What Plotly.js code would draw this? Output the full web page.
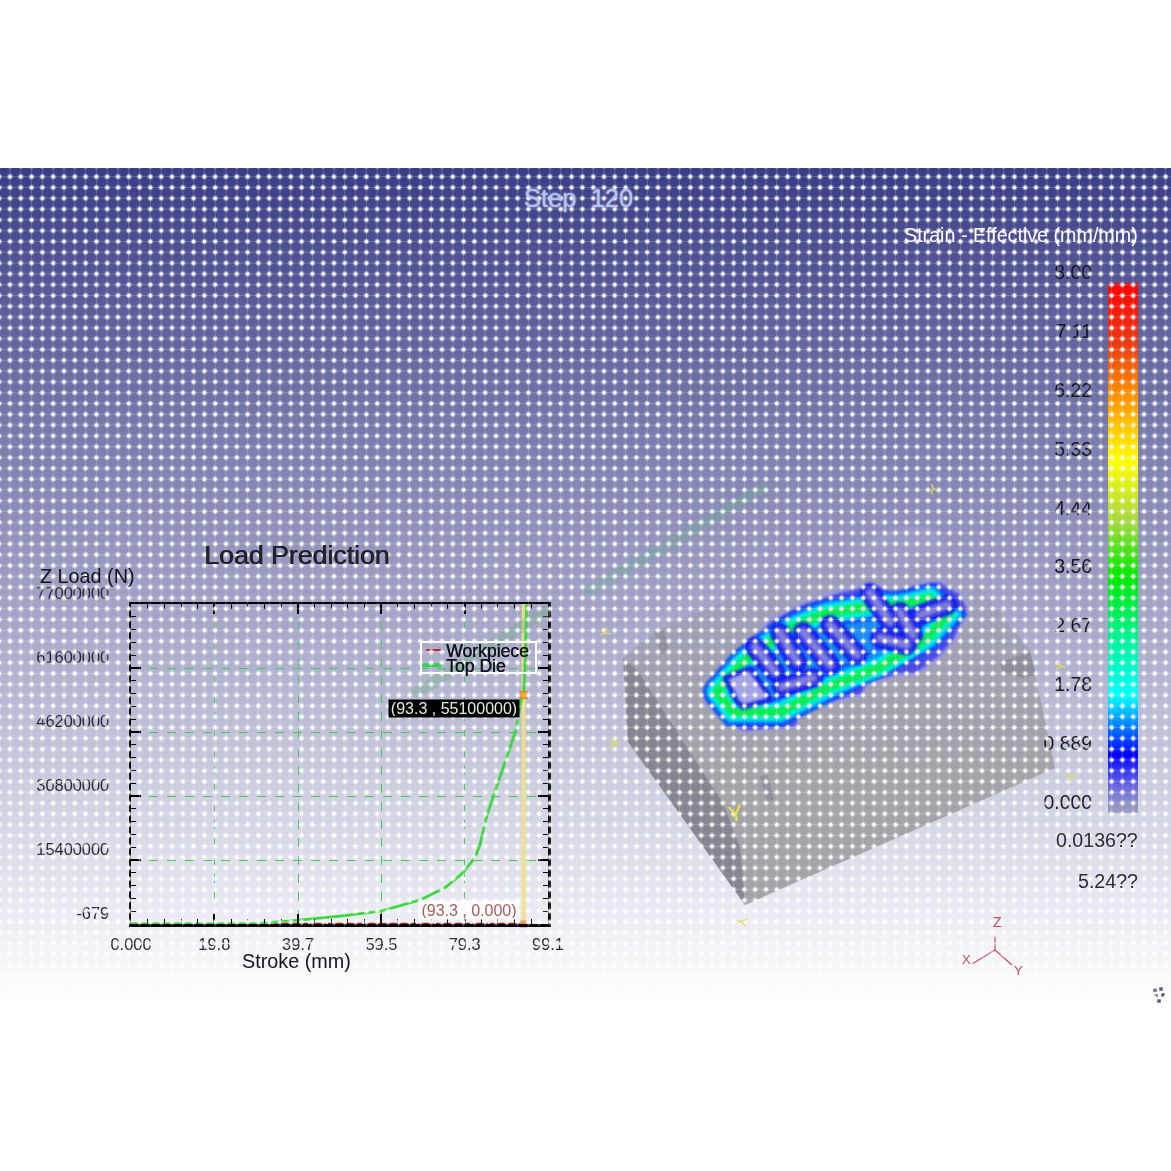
<!DOCTYPE html>
<html><head><meta charset="utf-8">
<script src="https://cdn.plot.ly/plotly-3.0.1.min.js"></script>
<style>
html,body{margin:0;padding:0;background:#fff}
#chart{width:1171px;height:1171px;filter:blur(0.35px)}
.scatterlayer path.js-line{stroke-linecap:round}
.subplot.x2y2 .scatterlayer .trace:nth-child(n+6):nth-child(-n+16){filter:blur(1.6px)}
</style></head><body><div id="chart"></div>
<script>
// ---- load curve data ----
const strokeTopDie=[0,28.3,37.8,49.7,59.4,68.7,74.6,78.9,81.8,82.9,84.6,87.0,89.4,91.5,92.7,93.3,93.6,94.0];
const loadTopDie=[0,0,720000,1900000,3100000,5800000,8700000,12300000,16100000,19000000,26200000,33400000,40700000,46700000,53900000,55100000,62000000,77000000];
const strokeWorkpiece=[0,93.3];
const loadWorkpiece=[0,0];
const currentStroke=93.3, currentLoad=55100000;
const xTickVals=[0,19.8,39.7,59.5,79.3,99.1];
const xTickText=['0.000','19.8','39.7','59.5','79.3','99.1'];
const yTickVals=[0,15400000,30800000,46200000,61600000,77000000];
const yTickText=['-679','15400000','30800000','46200000','61600000','77000000'];
// ---- strain scale ----
const strainVals=[0,0.3,0.6,0.889,1.33,1.78,2.67,3.56,4.44,5.33,6.22,7.11,8];
const strainTicks=[0,0.889,1.78,2.67,3.56,4.44,5.33,6.22,7.11,8];
const strainText=['0.000','0.889','1.78','2.67','3.56','4.44','5.33','6.22','7.11','8.00'];
const strainScale=[[0,'#a0a0bc'],[0.05,'#6a6ae0'],[0.111,'#0000ff'],[0.166,'#0080ff'],[0.2225,'#00ffff'],[0.334,'#00f090'],[0.445,'#00e800'],[0.555,'#a8d840'],[0.666,'#ffff00'],[0.7775,'#ff9a00'],[0.889,'#e63a14'],[1,'#ff0000']];
// ---- part outlines ----
const blockX=[623,657,900,930,1030,1055,745],blockY=[658,630,527,527,650,768,905];
const faceX=[623,628,745,740,723,637],faceY=[658,742,905,847,803,670];
const notchX=[1000,1030,1036,1022,1002],notchY=[662,652,675,678,672];
const notch2X=[760,768,774,766],notch2Y=[776,775,800,801];
const notch3X=[655,664,669,660],notch3Y=[632,630,652,654];
const blobX=[708,725,750,770,803,840,870,882,893,913,940,960,968,955,940,917,900,867,863,840,800,797,743,720,706,708];
const blobY=[688,672,644,620,603,591,585,586,593,585,581,593,608,640,657,674,675,684,695,700,709,727,732,717,702,688];
const ringX=[717,733,780,833,880,927,948,930,900,880,827,797,763,743,717];
const ringY=[692,712,712,685,667,638,615,598,605,605,613,625,647,662,692];
const webX=[755,775,null,780,797,null,782,813,null,803,830,null,830,857,null,870,890,null,880,907,null,900,913,null,920,947];
const webY=[647,672,null,633,662,null,687,678,null,632,665,null,625,655,null,593,622,null,638,645,null,612,635,null,615,605];
const endX=[725,750,767,770,743,737,725],endY=[678,668,692,700,707,702,678];
const wm1X=[590,765],wm1Y=[590,487];
const wm2X=[418,545],wm2Y=[692,612];
const triadX=[972,995,995,null,995,1012],triadY=[964,950,937,null,950,965];
const iconX=[1155,1161,1156,1163,1159],iconY=[990,989,996,995,1001];
const legendRedX=[427,441],legendRedY=[650,650];
const legendGreenX=[424,441],legendGreenY=[665,665];

const F='"Liberation Sans",Arial,sans-serif';
const W=1171,H=1171;
const svgImg=s=>'data:image/svg+xml;charset=utf-8,'+encodeURIComponent(s);
const gradSvg=`<svg xmlns="http://www.w3.org/2000/svg" width="1171" height="832" viewBox="0 0 1171 832"><defs><linearGradient id="g" x1="0" y1="0" x2="0" y2="1"><stop offset="0" stop-color="#3a3d85"/><stop offset="1" stop-color="#ffffff"/></linearGradient></defs><rect width="1171" height="832" fill="url(#g)"/></svg>`;
const dotSvg=`<svg xmlns="http://www.w3.org/2000/svg" width="1171" height="832" viewBox="0 0 1171 832"><defs><pattern id="p" x="4.6" y="3.3" width="10.8" height="10.8" patternUnits="userSpaceOnUse"><rect x="5" y="0" width="0.8" height="10.8" fill="#fff" fill-opacity="0.24"/><rect x="0" y="5" width="10.8" height="0.8" fill="#fff" fill-opacity="0.24"/><circle cx="5.4" cy="5.4" r="2.9" fill="#fff" fill-opacity="0.3"/><circle cx="5.4" cy="5.4" r="1.9" fill="#fff" fill-opacity="0.95"/></pattern></defs><rect width="1171" height="832" fill="url(#p)"/></svg>`;

const pix={xaxis:'x2',yaxis:'y2',hoverinfo:'skip',showlegend:false};
const line=(x,y,color,width,extra={})=>Object.assign({type:'scatter',mode:'lines',x,y,line:{color,width,...extra}},pix);
const poly=(x,y,fill,lineColor,lw=0)=>Object.assign({type:'scatter',mode:'lines',x,y,fill:'toself',fillcolor:fill,line:{color:lineColor||fill,width:lw}},pix);

const blockTrace=poly(blockX,blockY,'#a2a2ac');
blockTrace.fillgradient={type:'vertical',start:527,stop:780,colorscale:[[0,'#9799c2'],[0.5,'#a0a0b2'],[1,'#a3a3a8']]};

const traces=[
 // block
 blockTrace,
 poly(faceX,faceY,'#868692'),
 poly(notchX,notchY,'#8d8d98'),poly(notch2X,notch2Y,'#90909a'),poly(notch3X,notch3Y,'#90909c'),
 // crank forging
 poly(blobX,blobY,'#4a4ae4','#9a9ae0',3),
 poly(ringX,ringY,'#1a8cf0'),
 line(ringX,ringY,'#1040f0',28),
 line(ringX,ringY,'#0090ff',23),
 line(ringX,ringY,'#00e8f0',18),
 line(ringX,ringY,'#00f0a0',12),
 line(ringX,ringY,'#10e850',7),
 line(webX,webY,'#0a18e8',20),
 line(webX,webY,'#3a3ae8',14),
 line(webX,webY,'#8080d8',7),
 poly(endX,endY,'#a4a4e4','#1420e0',5),
 // watermarks
 line(wm1X,wm1Y,'rgba(110,175,150,0.35)',12,{dash:'5px,8px'}),
 line(wm2X,wm2Y,'rgba(110,175,130,0.35)',12,{dash:'6px,9px'}),
 // triad + icon
 line(triadX,triadY,'#c84a5a',1.2),
 Object.assign({type:'scatter',mode:'markers',x:iconX,y:iconY,marker:{size:3.5,color:'#5a5a80',symbol:'square'}},pix),
 // legend keys
 line(legendRedX,legendRedY,'#c02030',2),
 line(legendGreenX,legendGreenY,'#30d050',4),
 // chart
 {type:'scatter',mode:'lines',name:'Workpiece',x:strokeWorkpiece,y:loadWorkpiece,line:{color:'#a01818',width:2.4,dash:'14px,4px'},cliponaxis:false,showlegend:false},
 {type:'scatter',mode:'lines',name:'Current step',x:[currentStroke,currentStroke],y:[0,77500000],line:{color:'rgba(240,225,130,0.9)',width:4},cliponaxis:false,showlegend:false},
 {type:'scatter',mode:'lines',name:'Top Die',x:strokeTopDie,y:loadTopDie,line:{color:'#38d83c',width:2.8,dash:'26px,2px'},cliponaxis:false,showlegend:false},
 {type:'scatter',mode:'markers',x:[currentStroke],y:[currentLoad],marker:{symbol:'square',size:7,color:'#f0a030',line:{color:'#e08020',width:1}},cliponaxis:false,showlegend:false},
 {type:'scatter',mode:'markers',x:[currentStroke],y:[0],marker:{symbol:'square',size:7,color:'#e09060'},cliponaxis:false,showlegend:false},
 // strain scale
 {type:'heatmap',xaxis:'x3',yaxis:'y3',x:[0,1],y:strainVals,z:strainVals.map(v=>[v,v]),zmin:0,zmax:8,zsmooth:'best',colorscale:strainScale,showscale:false,hoverinfo:'skip'}
];

const note=(text,x,y,size,color,xanchor='center',extra={})=>Object.assign({text,x,y,xref:'x2',yref:'y2',xanchor,yanchor:'middle',showarrow:false,font:{family:F,size,color}},extra);
const ann=[
 note('Step  120',578,198,25.5,'#b4c2f0','center',{font:{family:F,size:25.5,color:'#b4c2f0',shadow:'0 0 2px #dfe6ff'}}),
 note('Strain - Effective (mm/mm)',1140,235,19.7,'#ffffff','right'),
 note('Load Prediction',296,555,26.7,'#22222c','center',{font:{family:F,size:26.7,color:'#22222c',shadow:'0.7px 0 0 #22222c'}}),
 note('Z Load (N)',38,576,19.8,'#14141c','left'),
 note('Stroke (mm)',296,961,19.8,'#14141c','center'),
 note('Workpiece',444,651,17.6,'#14141c','left',{font:{family:F,size:17.6,color:'#14141c',shadow:'0.4px 0 0 #14141c'}}),
 note('Top Die',444,666,17.6,'#14141c','left',{font:{family:F,size:17.6,color:'#14141c',shadow:'0.4px 0 0 #14141c'}}),
 note('(93.3 , 55100000)',454,708,16,'#dff0dc','center',{bgcolor:'#000000',width:128,height:15,borderpad:1}),
 note('(93.3 , 0.000)',469,910,16,'#a85a5a','center',{bgcolor:'rgba(255,255,255,0.85)',width:98,height:16,borderpad:1}),
 note('0.0136??',1140,840,19.6,'#2c2c36','right'),
 note('5.24??',1140,881,19.6,'#2c2c36','right'),
 note('Z',997,922,14,'#c84a5a'),
 note('X',966,959,13,'#c84a5a'),
 note('Y',1018,970,13,'#c84a5a'),
 note('Y',735,813,22,'#ece83a','center',{textangle:-10}),
 note('Y',933,489,14,'#e4e050','center',{textangle:160}),
 note('Y',605,633,14,'#e4e050','center',{textangle:60}),
 note('Y',1061,666,14,'#e4e050','center',{textangle:-80}),
 note('Y',614,743,15,'#e4e050','center',{textangle:40}),
 note('Y',1071,776,14,'#e4e050','center',{textangle:-110}),
 note('Y',742,922,14,'#e4e050','center',{textangle:100})
];

const layout={
 width:W,height:H,margin:{l:0,r:0,t:0,b:0},paper_bgcolor:'#ffffff',plot_bgcolor:'rgba(0,0,0,0)',showlegend:false,
 images:[
  {source:svgImg(gradSvg),xref:'paper',yref:'paper',x:0,y:1-168/H,sizex:1,sizey:832/H,xanchor:'left',yanchor:'top',sizing:'stretch',layer:'below'},
  {source:svgImg(dotSvg),xref:'paper',yref:'paper',x:0,y:1-168/H,sizex:1,sizey:832/H,xanchor:'left',yanchor:'top',sizing:'stretch',layer:'above'}
 ],
 xaxis:{domain:[131/W,548/W],range:[0,99.1],tickmode:'array',tickvals:xTickVals,ticktext:xTickText,ticks:'inside',ticklen:10,tickwidth:2,tickcolor:'#000',showline:true,linecolor:'#000',linewidth:2.5,mirror:'ticks',showgrid:true,gridcolor:'#46c858',griddash:'dash',gridwidth:1,zeroline:false,tickfont:{family:F,size:16.4,color:'#26262e'},ticklabelstandoff:4,anchor:'y',
  minor:{dtick:3.964,tick0:0,ticks:'inside',ticklen:5,tickwidth:1,tickcolor:'#000',showgrid:false}},
 yaxis:{domain:[1-924/H,1-604/H],range:[0,77000000],tickmode:'array',tickvals:yTickVals,ticktext:yTickText,ticks:'inside',ticklen:10,tickwidth:2,tickcolor:'#000',showline:true,linecolor:'#000',linewidth:2.5,mirror:'ticks',showgrid:true,gridcolor:'#46c858',griddash:'dash',gridwidth:1,zeroline:false,tickfont:{family:F,size:16.4,color:'#26262e'},ticklabelstandoff:16,ticklabelshift:-11,anchor:'x',
  minor:{dtick:3080000,tick0:0,ticks:'inside',ticklen:5,tickwidth:1,tickcolor:'#000',showgrid:false}},
 xaxis2:{domain:[0,1],range:[0,W],visible:false,anchor:'y2',fixedrange:true},
 yaxis2:{domain:[0,1],range:[H,0],visible:false,anchor:'x2',fixedrange:true},
 xaxis3:{domain:[1108/W,1138/W],range:[0,1],visible:false,anchor:'y3'},
 yaxis3:{domain:[1-813/H,1-283/H],range:[0,8],tickmode:'array',tickvals:strainTicks,ticktext:strainText,ticks:'',showgrid:false,zeroline:false,showline:false,tickfont:{family:F,size:19.4,color:'#14141c'},ticklabelstandoff:15,ticklabelshift:-11,anchor:'x3'},
 shapes:[{type:'rect',xref:'x2',yref:'y2',x0:421,x1:536,y0:642,y1:673,line:{color:'#ffffff',width:2},fillcolor:'rgba(0,0,0,0)',layer:'above'}],
 annotations:ann
};
Plotly.newPlot('chart',traces,layout,{staticPlot:true,displayModeBar:false});
</script></body></html>
